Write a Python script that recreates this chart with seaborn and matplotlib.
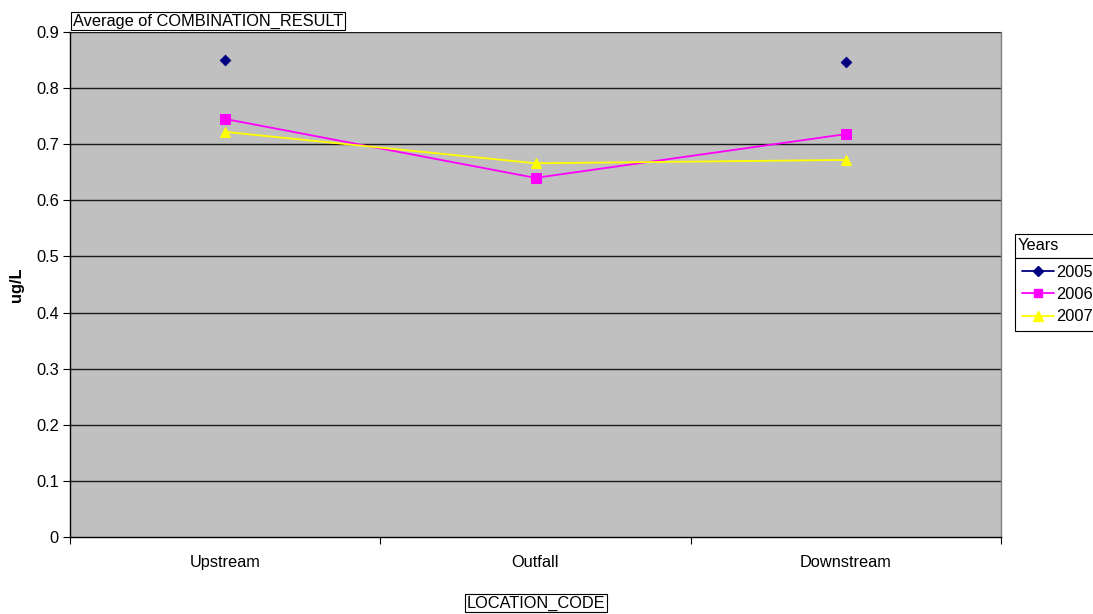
import matplotlib
matplotlib.use("Agg")
import matplotlib.pyplot as plt
from matplotlib.lines import Line2D
from matplotlib.patches import Rectangle
import numpy as np
import pandas as pd
import seaborn as sns

# Average COMBINATION_RESULT (ug/L) per location and year
locations = ["Upstream", "Outfall", "Downstream"]
years = ["2005", "2006", "2007"]
values_2005 = [0.850, np.nan, 0.847]
values_2006 = [0.745, 0.640, 0.718]
values_2007 = [0.722, 0.666, 0.672]
y_ticks = [0, 0.1, 0.2, 0.3, 0.4, 0.5, 0.6, 0.7, 0.8, 0.9]

series = {"2005": values_2005, "2006": values_2006, "2007": values_2007}
colors = {"2005": "#000080", "2006": "#FF00FF", "2007": "#FFFF00"}
markers = {"2005": "D", "2006": "s", "2007": "^"}
msizes = {"2005": 5.5, "2006": 6.5, "2007": 7}

sns.set_theme(style="white")
plt.rcParams["font.family"] = ["Liberation Sans", "DejaVu Sans"]
plt.rcParams["text.color"] = "black"
plt.rcParams["axes.labelcolor"] = "black"
plt.rcParams["xtick.color"] = "black"
plt.rcParams["ytick.color"] = "black"
FS = 11.8

fig = plt.figure(figsize=(10.93, 6.14), dpi=100)
W, H = 1093, 614
L, R, T, B = 70, 1001, 32, 537
ax = fig.add_axes([L / W, 1 - B / H, (R - L) / W, (B - T) / H])
ax.set_facecolor("#C0C0C0")

pos = np.arange(len(locations))
for yr in years:
    df = pd.DataFrame({"pos": pos, "val": series[yr]})
    if yr == "2005":
        sns.scatterplot(data=df.dropna(), x="pos", y="val", ax=ax, marker=markers[yr],
                        s=msizes[yr] ** 2, color=colors[yr], edgecolor=colors[yr],
                        linewidth=0.5, zorder=4, legend=False)
    else:
        sns.lineplot(data=df, x="pos", y="val", ax=ax, color=colors[yr], lw=1.3,
                     marker=markers[yr], markersize=msizes[yr], markeredgecolor=colors[yr],
                     zorder=4, legend=False)

ax.set_ylim(0, 0.9)
ax.set_xlim(-0.5, len(locations) - 0.5)
ax.set_yticks(y_ticks)
ax.set_yticklabels(["0" if v == 0 else f"{v:.1f}" for v in y_ticks], fontsize=FS)
for v in y_ticks[1:]:
    ax.axhline(v, color="#1a1a1a", lw=1.0, zorder=1)

ax.set_xticks(np.arange(-0.5, len(locations), 1.0))
ax.set_xticklabels([])
ax.set_xticks(pos, minor=True)
ax.set_xticklabels(locations, minor=True, fontsize=FS)
ax.tick_params(axis="x", which="minor", length=0, pad=13)
ax.tick_params(axis="x", which="major", length=5, width=0.8, color="black", direction="out", bottom=True)
ax.tick_params(axis="y", length=5, width=0.8, color="black", direction="out", left=True, pad=3)

for side in ["left", "bottom"]:
    ax.spines[side].set_color("black")
    ax.spines[side].set_linewidth(1.0)
ax.spines["top"].set_visible(False)
ax.spines["right"].set_color("#808080")
ax.spines["right"].set_linewidth(1.0)

ax.set_xlabel("")
ax.set_ylabel("ug/L", fontsize=FS, fontweight="bold", labelpad=9)

# Field buttons
fig.text(73 / W, 1 - 21 / H, "Average of COMBINATION_RESULT", fontsize=FS, va="center", ha="left",
         bbox=dict(boxstyle="square,pad=0.1", fc="white", ec="black", lw=0.8))
fig.text(536 / W, 1 - 603 / H, "LOCATION_CODE", fontsize=FS, va="center", ha="center",
         bbox=dict(boxstyle="square,pad=0.1", fc="white", ec="black", lw=0.8))

# Legend with a "Years" header cell
fig.patches.append(Rectangle((1015 / W, 1 - 258 / H), 0.2, 24 / H, transform=fig.transFigure,
                             fc="white", ec="black", lw=0.8, zorder=5))
fig.text(1018 / W, 1 - 246 / H, "Years", fontsize=FS, va="center", ha="left", zorder=6)
handles = [Line2D([0], [0], color=colors[yr], lw=1.3, marker=markers[yr],
                  markersize=msizes[yr] - 0.5, markeredgecolor=colors[yr]) for yr in years]
leg = fig.legend(handles, years, loc="upper left", bbox_to_anchor=(1015 / W, 1 - 258 / H),
                 borderaxespad=0, frameon=True, fancybox=False, edgecolor="black",
                 fontsize=FS, handlelength=1.95, handletextpad=0.15, borderpad=0.4,
                 labelspacing=0.45, framealpha=1)
leg.get_frame().set_linewidth(0.8)

fig.savefig("out.png", dpi=100)
